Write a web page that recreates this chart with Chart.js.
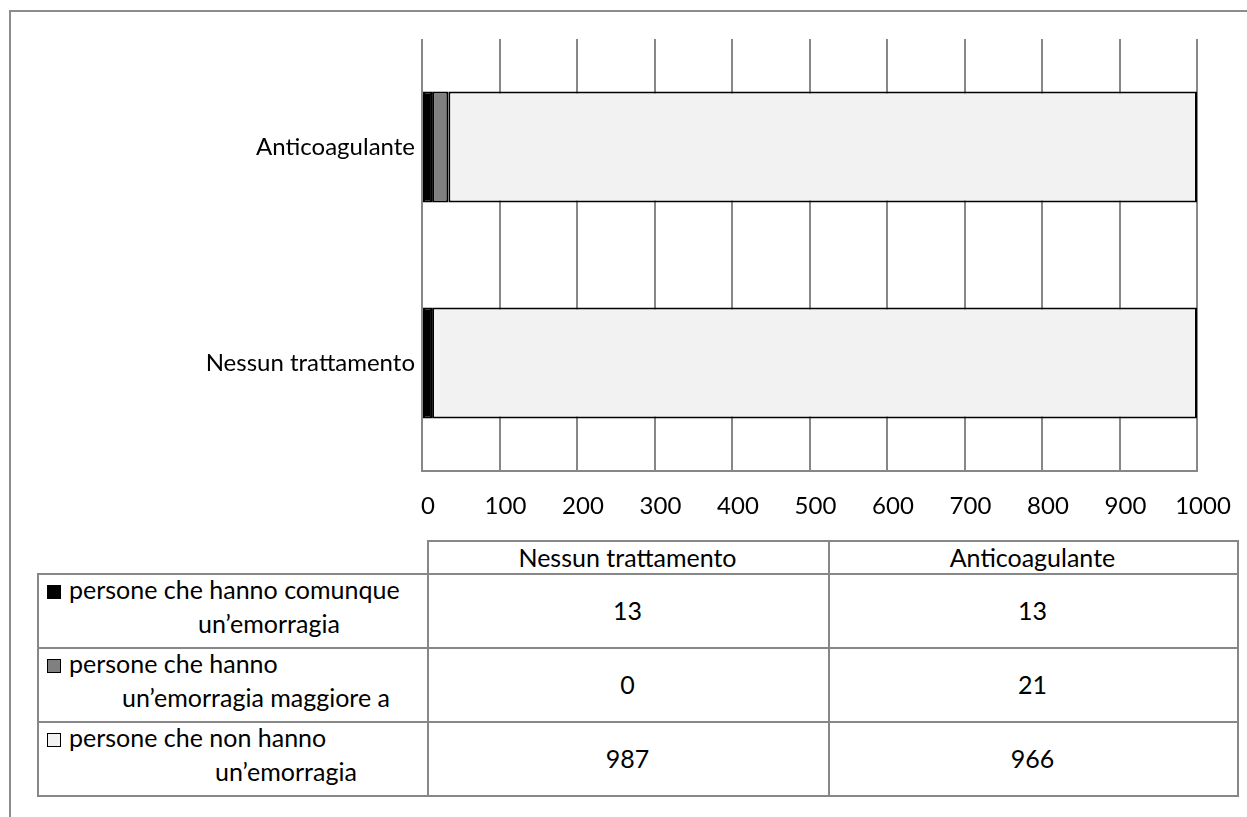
<!DOCTYPE html>
<html>
<head>
<meta charset="utf-8">
<script src="https://cdn.jsdelivr.net/npm/chart.js@4"></script>
<style>
  body { margin: 0; background: #fff; font-family: Lato, 'Open Sans', sans-serif; color: #000; }
  #page { position: relative; width: 1247px; height: 817px; overflow: hidden; }
  #frame { position: absolute; left: 9px; top: 10px; width: 1400px; height: 900px; border: 2px solid #8c8c8c; }
  #chart { position: absolute; left: 0; top: 0; }
  .cell { position: absolute; box-sizing: border-box; border: 2px solid #878787; }
  .txt { position: absolute; white-space: nowrap; font-size: 25px; line-height: 25px; }
  .key { position: absolute; width: 14px; height: 14px; box-sizing: border-box; border: 1px solid #000; }
</style>
</head>
<body>
<div id="page">
  <div id="frame"></div>
  <canvas id="chart" width="1247" height="540"></canvas>
  <div id="table"></div>
</div>
<script>
// categories (bottom to top in the chart, left to right in the table)
const categories = ['Nessun trattamento', 'Anticoagulante'];

// series, one value per category
const emorragiaComunque = [13, 13];
const emorragiaMaggiore = [0, 21];
const nessunaEmorragia = [987, 966];

// series names as they wrap in the table
const seriesNames = [
  ['persone che hanno comunque', 'un’emorragia'],
  ['persone che hanno', 'un’emorragia maggiore a'],
  ['persone che non hanno', 'un’emorragia']
];

const xTicks = [0, 100, 200, 300, 400, 500, 600, 700, 800, 900, 1000];

const seriesValues = [emorragiaComunque, emorragiaMaggiore, nessunaEmorragia];
const seriesColors = ['#000000', '#808080', '#f2f2f2'];

const FONT = "Lato, 'Open Sans', sans-serif";

const ctx = document.getElementById('chart').getContext('2d');
const chart = new Chart(ctx, {
  type: 'bar',
  data: {
    labels: categories,
    datasets: seriesValues.map((vals, i) => ({
      label: seriesNames[i].join(' '),
      data: vals,
      backgroundColor: seriesColors[i],
      borderColor: '#000000',
      borderWidth: 2,
      borderSkipped: false,
      categoryPercentage: 1,
      barPercentage: 0.515
    }))
  },
  options: {
    indexAxis: 'y',
    responsive: false,
    animation: false,
    layout: { padding: { top: 39, right: 50, left: 0, bottom: 0 } },
    plugins: {
      legend: { display: false },
      tooltip: { enabled: false }
    },
    scales: {
      x: {
        stacked: true,
        min: 0,
        max: 1000,
        afterBuildTicks: scale => { scale.ticks = xTicks.map(v => ({ value: v })); },
        afterFit: scale => { scale.height = 69; },
        grid: { color: '#878787', lineWidth: 2, drawTicks: false },
        border: { color: '#878787', width: 2 },
        ticks: {
          color: '#000',
          font: { family: FONT, size: 24 },
          padding: 21,
          labelOffset: 6,
          maxRotation: 0,
          callback: (v, i) => String(xTicks[i])
        }
      },
      y: {
        stacked: true,
        reverse: true,
        afterFit: scale => { scale.width = 422; },
        grid: { display: false, drawTicks: false },
        border: { display: false },
        ticks: { color: '#000', font: { family: FONT, size: 24 }, padding: 7 }
      }
    }
  }
});

// data table below the chart
const table = document.getElementById('table');
function add(cls, css, text) {
  const d = document.createElement('div');
  d.className = cls;
  Object.assign(d.style, css);
  if (text !== undefined) d.textContent = text;
  table.appendChild(d);
  return d;
}

const colX = [37, 427, 828, 1237];
const headTop = 540, headH = 33, rowH = 74;
const line2Left = [198, 122, 215];

categories.forEach((c, j) => {
  add('cell', { left: colX[j + 1] + 'px', top: headTop + 'px', width: (colX[j + 2] - colX[j + 1] + 2) + 'px', height: (headH + 2) + 'px' });
  add('txt', { left: colX[j + 1] + 'px', width: (colX[j + 2] - colX[j + 1]) + 'px', top: (headTop + 5) + 'px', textAlign: 'center' }, c);
});

seriesValues.forEach((vals, i) => {
  const top = headTop + headH + i * rowH;
  add('cell', { left: colX[0] + 'px', top: top + 'px', width: (colX[1] - colX[0] + 2) + 'px', height: (rowH + 2) + 'px' });
  add('key', { left: '47px', top: (top + 12) + 'px', background: seriesColors[i] });
  add('txt', { left: '69px', top: (top + 4) + 'px' }, seriesNames[i][0]);
  add('txt', { left: line2Left[i] + 'px', top: (top + 38) + 'px' }, seriesNames[i][1]);
  vals.forEach((v, j) => {
    add('cell', { left: colX[j + 1] + 'px', top: top + 'px', width: (colX[j + 2] - colX[j + 1] + 2) + 'px', height: (rowH + 2) + 'px' });
    add('txt', { left: colX[j + 1] + 'px', width: (colX[j + 2] - colX[j + 1]) + 'px', top: (top + 25) + 'px', textAlign: 'center' }, String(v));
  });
});
</script>
</body>
</html>
